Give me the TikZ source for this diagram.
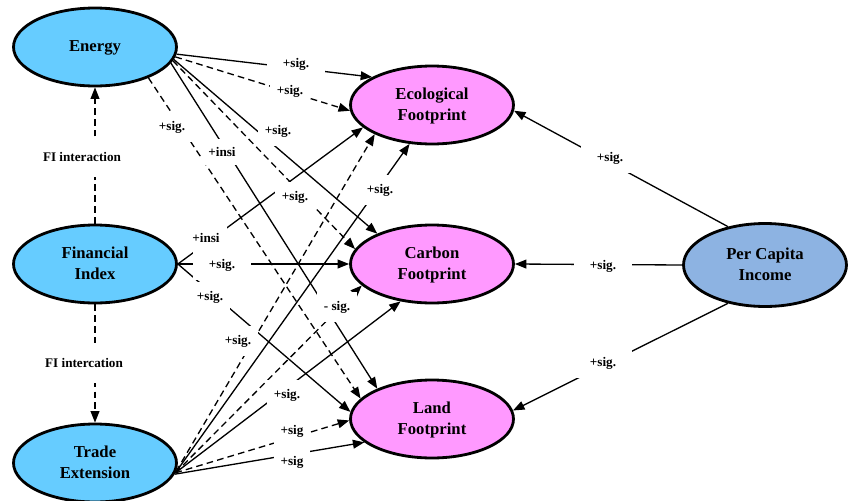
\documentclass[tikz,border=0pt]{standalone}
\usepackage{fontspec}
\setmainfont{Liberation Serif}
\usetikzlibrary{arrows.meta,shapes.geometric}
\definecolor{skyblue}{HTML}{66CCFF}
\definecolor{pinkfill}{HTML}{FF99FF}
\definecolor{steelfill}{HTML}{8DB3E2}

\tikzset{
    factor/.style={ellipse, draw, line width=1.6pt, fill=skyblue, minimum width=3.26cm, minimum height=1.56cm, align=center, text depth=1pt, font=\fontsize{9.5}{11.5}\selectfont\bfseries},
    footprint/.style={factor, fill=pinkfill},
    link/.style={line width=0.75pt, -{Triangle[length=6.5pt,width=5pt]}},
    ilink/.style={link, dash pattern=on 3.8pt off 2.4pt},
    lbl/.style={fill=white, inner xsep=4pt, inner ysep=5pt, font=\fontsize{7.5}{9}\selectfont\bfseries}
}

\begin{document}
\begin{tikzpicture}[x=0.02cm, y=-0.02cm]
    \useasboundingbox (0,0) rectangle (850,501);
    % the ellipses
    \node[factor] (en) at (95,47) {Energy};
    \node[factor] (fi) at (95,264) {Financial\\Index};
    \node[factor] (te) at (95,463) {Trade\\Extension};
    \node[footprint] (ef) at (432,105) {Ecological\\Footprint};
    \node[footprint] (cf) at (432,264) {Carbon\\Footprint};
    \node[footprint] (lf) at (432,419) {Land\\Footprint};
    \node[factor, fill=steelfill, minimum height=1.66cm] (pc) at (765,265) {Per Capita\\Income};
    % energy
    \draw[link] (en.-5) -- (ef.155);
    \draw[ilink] (en.-7) -- (ef.184);
    \draw[link] (en.-9) -- (cf.151);
    \draw[ilink] (en.-10) -- (cf.169);
    \draw[link] (en.-12) -- (lf.151);
    \draw[ilink] (en.-30) -- (lf.164);
    % financial index
    \draw[link] (fi.east) -- (ef.198);
    \draw[link] (fi.east) -- (cf.west);
    \draw[link] (fi.east) -- (lf.175);
    % trade
    \draw[link] (te.-7) -- (ef.240);
    \draw[ilink] (te.-6) -- (ef.207);
    \draw[link] (te.-7) -- (cf.230);
    \draw[ilink] (te.-7) -- (cf.197);
    \draw[ilink] (te.-7) -- (lf.181);
    \draw[link] (te.-8) -- (lf.199);
    % per capita income
    \draw[link] (pc.134) -- (ef.-4);
    \draw[link] (pc.west) -- (cf.east);
    \draw[link] (pc.226) -- (lf.6);
    % interaction
    \draw[ilink] (fi.north) -- (en.south);
    \draw[ilink] (fi.south) -- (te.north);
    % labels on top of the lines
    \node[lbl, inner xsep=9pt] (en-ef) at (296,64) {+sig.};
    \node[lbl] (en-ef-i) at (290,91) {+sig.};
    \node[lbl] (en-cf) at (278,131) {+sig.};
    \node[lbl] (en-cf-i) at (295,197) {+sig.};
    \node[lbl] (en-lf-i) at (172,127) {+sig.};
    \node[lbl] (en-lf) at (222,152) {+insi};
    \node[lbl] (fi-ef) at (206,238) {+insi};
    \node[lbl, inner xsep=9pt] (fi-cf) at (222,265) {+sig.};
    \node[lbl] (fi-lf) at (210,297) {+sig.};
    \node[lbl] (te-ef) at (380,190) {+sig.};
    \node[lbl] (te-ef-i) at (238,341) {+sig.};
    \node[lbl] (te-cf-i) at (337,307) {- sig.};
    \node[lbl] (te-cf) at (287,395) {+sig.};
    \node[lbl] (te-lf-i) at (292,431) {+sig};
    \node[lbl] (te-lf) at (292,462) {+sig};
    \node[lbl, inner xsep=9pt] (pc-ef) at (610,158) {+sig.};
    \node[lbl, inner xsep=9pt] (pc-cf) at (603,266) {+sig.};
    \node[lbl, inner xsep=9pt] (pc-lf) at (603,363) {+sig.};
    \node[lbl, inner ysep=9pt] (fi-en) at (82,157) {FI interaction};
    \node[lbl, inner ysep=9pt] (fi-te) at (84,363) {FI intercation};
\end{tikzpicture}
\end{document}
